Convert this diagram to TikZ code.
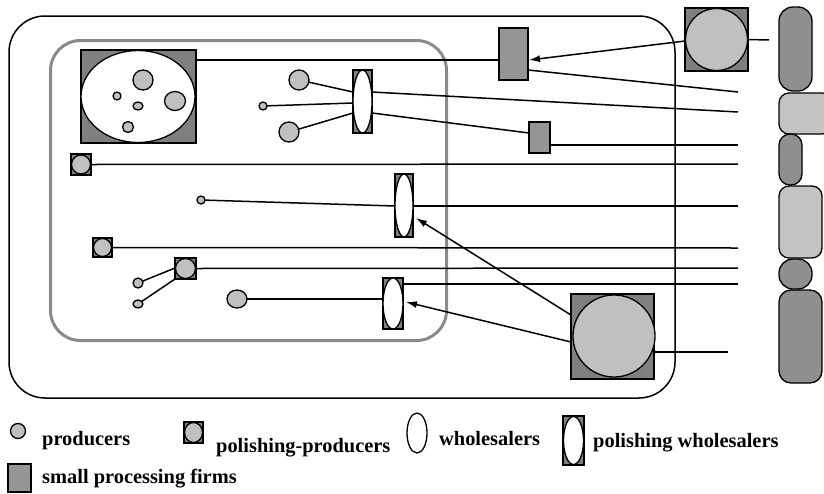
\documentclass[tikz,border=0pt]{standalone}
\usepackage{fontspec}
\setmainfont{Liberation Serif}
\usetikzlibrary{shapes.geometric,arrows.meta}
\definecolor{sqdark}{HTML}{808080}
\definecolor{lightg}{HTML}{C0C0C0}
\definecolor{firmg}{HTML}{959595}
\definecolor{coldark}{HTML}{8F8F8F}
\definecolor{collight}{HTML}{C3C3C3}
\definecolor{innerg}{HTML}{8A8A8A}
\begin{document}
\begin{tikzpicture}[x=1pt,y=-1pt,
  prod/.style={circle, draw=black, fill=lightg, inner sep=0pt, outer sep=0pt, line width=1.3pt},
  prodoval/.style={ellipse, draw=black, fill=lightg, inner sep=0pt, outer sep=0pt, line width=1.3pt},
  ppsq/.style={rectangle, draw=black, fill=sqdark, inner sep=0pt, outer sep=0pt, line width=1.1pt},
  whole/.style={ellipse, draw=black, fill=white, inner sep=0pt, outer sep=0pt, line width=1.3pt},
  pwrect/.style={rectangle, draw=black, fill=sqdark, inner sep=0pt, outer sep=0pt, line width=1.1pt},
  firm/.style={rectangle, draw=black, fill=firmg, inner sep=0pt, outer sep=0pt, line width=1.3pt},
  link/.style={draw=black, line width=1.5pt},
  arrowlink/.style={link, -{Latex[length=11pt,width=7pt]}},
  legendtext/.style={anchor=base west, inner sep=0pt, font=\fontsize{20.4}{24}\selectfont\bfseries},
  colshape/.style={draw=black, line width=1.3pt}]
\useasboundingbox (0,0) rectangle (824,493);

% region boundaries
\draw[line width=1.5pt, rounded corners=36pt] (9,16) rectangle (675,398);
\draw[innerg, line width=3pt, rounded corners=30pt] (50.5,40.5) rectangle (446.5,340.5);

% right-hand column of markets
\draw[colshape, fill=coldark, rounded corners=14pt] (779,7) rectangle (812,91);
\draw[colshape, fill=collight, rounded corners=10pt] (779,93) rectangle (832,134);
\draw[colshape, fill=coldark, rounded corners=11pt] (779,134) rectangle (802,185);
\draw[colshape, fill=collight, rounded corners=10pt] (779,186) rectangle (822,258);
\draw[colshape, fill=coldark, rounded corners=14pt] (779,259) rectangle (812,289);
\draw[colshape, fill=coldark, rounded corners=12pt] (779,290) rectangle (822,383);

% cluster of producers in the top-left block
\node[ppsq, minimum width=115pt, minimum height=93pt] (big) at (138.5,96.5) {};
\node[whole, minimum width=114pt, minimum height=92pt] (bigov) at (138,96.5) {};
\node[prod, minimum size=20pt] (bc1) at (143,80) {};
\node[prod, minimum size=8pt] (bc2) at (117,96) {};
\node[prodoval, minimum width=10pt, minimum height=8pt] (bc3) at (138,106) {};
\node[prodoval, minimum width=21pt, minimum height=19pt] (bc4) at (175,101) {};
\node[prod, minimum size=11pt] (bc5) at (128,127) {};

% large polishing-producers outside the inner region
\node[ppsq, minimum width=63pt, minimum height=63pt] (tr) at (716.5,39.5) {};
\node[prod, minimum size=62pt] (trc) at (716.5,39.5) {};
\node[ppsq, minimum width=83pt, minimum height=85pt] (br) at (612.5,336.5) {};
\node[prod, minimum size=82pt] (brc) at (614,336) {};

% small processing firms
\node[firm, minimum width=29pt, minimum height=52pt] (spf1) at (513.5,54) {};
\node[firm, minimum width=21pt, minimum height=31pt] (spf2) at (539.5,137.5) {};

% polishing wholesalers
\node[pwrect, minimum width=19pt, minimum height=63pt] (tw1) at (362.5,101.5) {};
\node[whole, minimum width=19pt, minimum height=63pt] (tw1e) at (362.5,101.5) {};
\node[pwrect, minimum width=18pt, minimum height=63pt] (tw2) at (404,205.5) {};
\node[whole, minimum width=18pt, minimum height=63pt] (tw2e) at (404,205.5) {};
\node[pwrect, minimum width=20pt, minimum height=51pt] (tw3) at (393,303.5) {};
\node[whole, minimum width=20pt, minimum height=51pt] (tw3e) at (393,303.5) {};

% polishing-producers inside the inner region
\node[ppsq, minimum width=20pt, minimum height=21pt] (pp1) at (81,164.5) {};
\node[prod, minimum size=19pt] (pp1c) at (81,164.5) {};
\node[ppsq, minimum width=19pt, minimum height=19pt] (pp2) at (102.5,247.5) {};
\node[prod, minimum size=18pt] (pp2c) at (102.5,247.5) {};
\node[ppsq, minimum width=21pt, minimum height=21pt] (pp3) at (185.5,268.5) {};
\node[prod, minimum size=20pt] (pp3c) at (185.5,268.5) {};

% single producers
\node[prod, minimum size=20pt] (pa) at (299,80) {};
\node[prod, minimum size=8pt] (pb) at (263,106) {};
\node[prod, minimum size=20pt] (pc) at (289,132) {};
\node[prod, minimum size=8pt] (pd) at (201,200) {};
\node[prod, minimum size=10pt] (pe) at (138,283) {};
\node[prodoval, minimum width=10pt, minimum height=8pt] (pf) at (138,304) {};
\node[prodoval, minimum width=20pt, minimum height=18pt] (pg) at (237,299) {};

% free ends of the trade lines
\coordinate (r0) at (769,40);
\coordinate (e1) at (738,92);
\coordinate (e2) at (738,112);
\coordinate (e4) at (738,145);
\coordinate (e5) at (738,164);
\coordinate (e6) at (738,206);
\coordinate (e7) at (738,248);
\coordinate (e8) at (738,268);
\coordinate (e9) at (738,284);
\coordinate (r1) at (728,352);

% trade lines
\draw[link] ([yshift=36.5pt]big.east) -- ([yshift=-6pt]spf1.west);
\draw[link] ([yshift=-16pt]spf1.east) -- (e1);
\draw[link] (tr.east) -- (r0);
\draw[link] (pa) -- ([yshift=9.5pt]tw1.west);
\draw[link] (pb) -- ([yshift=-1.5pt]tw1.west);
\draw[link] (pc) -- ([yshift=-11.5pt]tw1.west);
\draw[link] ([yshift=9.5pt]tw1.east) -- (e2);
\draw[link] ([yshift=-11.5pt]tw1.east) -- ([yshift=4.5pt]spf2.west);
\draw[link] ([yshift=-7.5pt]spf2.east) -- (e4);
\draw[link] (pp1.east) -- (e5);
\draw[link] (pd) -- ([yshift=-0.5pt]tw2.west);
\draw[link] ([yshift=-0.5pt]tw2.east) -- (e6);
\draw[link] (pp2.east) -- (e7);
\draw[link] (pp3.east) -- (e8);
\draw[link] (pe) -- ([yshift=0.5pt]pp3.west);
\draw[link] (pf) -- (pp3.south west);
\draw[link] (pg) -- ([yshift=4.5pt]tw3.west);
\draw[link] ([yshift=19.5pt]tw3.east) -- (e9);
\draw[link] ([yshift=-15.5pt]br.east) -- (r1);

% supply arrows
\draw[arrowlink] ([yshift=-1.5pt]tr.west) -- ([yshift=-6pt,xshift=1pt]spf1.east);
\draw[arrowlink] ([yshift=21.5pt]br.west) -- ([xshift=3pt,yshift=-12.5pt]tw2.east);
\draw[arrowlink] ([yshift=-5.5pt]br.west) -- ([xshift=3pt,yshift=1.5pt]tw3.east);

% legend
\node[prod, minimum size=15pt] (lgprod) at (18,431) {};
\node[legendtext] (lgprodt) at (42,445) {producers};
\node[ppsq, minimum width=19pt, minimum height=21pt] (lgpp) at (193.5,432.5) {};
\node[prodoval, minimum width=18pt, minimum height=20pt] (lgppc) at (193.5,432.5) {};
\node[legendtext] (lgppt) at (216,452) {polishing-producers};
\node[whole, minimum width=20pt, minimum height=40pt] (lgwh) at (417,433) {};
\node[legendtext] (lgwht) at (439,445) {wholesalers};
\node[pwrect, minimum width=21pt, minimum height=49pt] (lgpw) at (573.5,440.5) {};
\node[whole, minimum width=20pt, minimum height=48pt] (lgpwe) at (573.5,440.5) {};
\node[legendtext] (lgpwt) at (593,447) {polishing wholesalers};
\node[firm, minimum width=23pt, minimum height=28pt] (lgfirm) at (19.5,478) {};
\node[legendtext] (lgfirmt) at (42,483) {small processing firms};
\end{tikzpicture}
\end{document}
